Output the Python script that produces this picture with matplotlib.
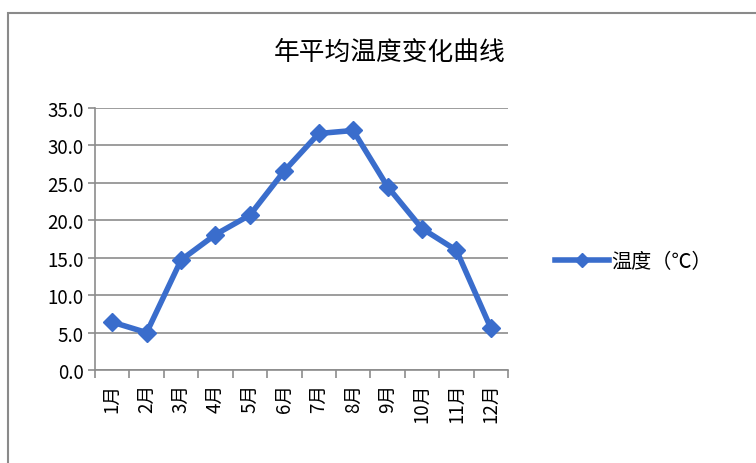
import matplotlib.pyplot as plt
from matplotlib.patches import Rectangle

plt.rcParams['font.family'] = ['Noto Sans CJK SC', 'DejaVu Sans']

# 每月平均温度
months = ['1月', '2月', '3月', '4月', '5月', '6月', '7月', '8月', '9月', '10月', '11月', '12月']
temps = [6.4, 5.0, 14.7, 18.1, 20.7, 26.6, 31.6, 32.0, 24.5, 18.9, 16.0, 5.6]

fig = plt.figure(figsize=(7.56, 4.64), dpi=100)
ax = fig.add_axes([0.1257, 0.2004, 0.5463, 0.5646])

x = list(range(1, len(months) + 1))
ax.plot(x, temps, color='#3a6dcc', lw=4, marker='D', markersize=9,
        markeredgecolor='#3a6dcc', label='温度（℃）')

ax.set_xlim(0.5, 12.5)
ax.set_ylim(0, 35)
ax.set_yticks(range(0, 36, 5))
ax.set_yticklabels([f'{v:.1f}' for v in range(0, 36, 5)], fontsize=13.5)
ax.yaxis.grid(True, color='#8c8c8c', lw=1.2)
ax.set_axisbelow(True)

# 刻度线在类别之间，标签放在类别中心
ax.set_xticks([i + 0.5 for i in range(0, 13)])
ax.set_xticklabels([])
ax.set_xticks(x, minor=True)
ax.set_xticklabels(months, minor=True, rotation=90, fontsize=13.5)
ax.tick_params(axis='x', which='major', length=6, color='#8c8c8c', width=1.2)
ax.tick_params(axis='x', which='minor', length=0, pad=9)
ax.tick_params(axis='y', length=5, color='#8c8c8c', width=1.2, pad=3)

for s in ['top', 'right']:
    ax.spines[s].set_visible(False)
for s in ['left', 'bottom']:
    ax.spines[s].set_color('#8c8c8c')
    ax.spines[s].set_linewidth(1.2)

fig.text(0.515, 0.885, '年平均温度变化曲线', ha='center', va='center', fontsize=18.5)

leg = fig.legend(loc='center left', bbox_to_anchor=(0.71, 0.435), frameon=False,
                 fontsize=14.5, handlelength=2.7, handletextpad=0.1)
for h in leg.legend_handles:
    h.set_markersize(7)

# 外边框
fig.add_artist(Rectangle((0.0106, -0.05), 1.2, 1.02, transform=fig.transFigure,
                         fill=False, edgecolor='#8a8a8a', lw=1.5))

fig.savefig('out.png', dpi=100)
